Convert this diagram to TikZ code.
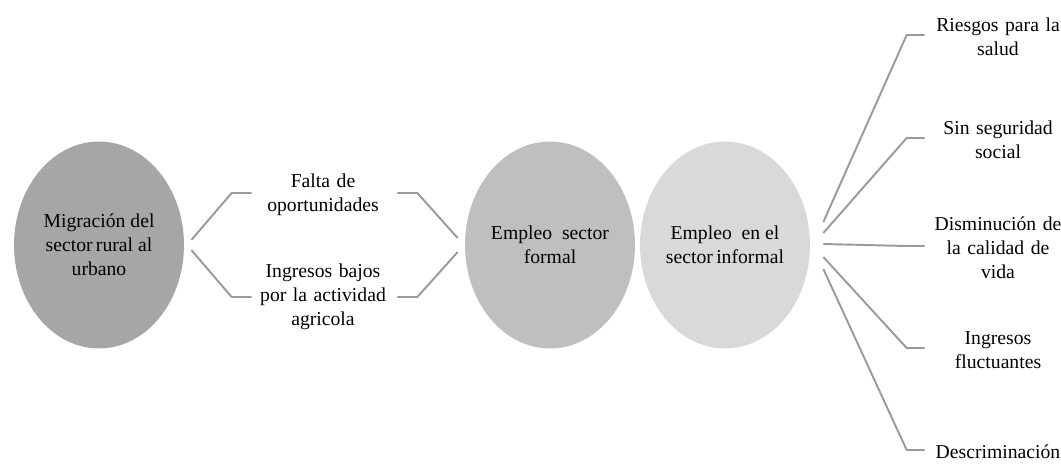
\documentclass[tikz,border=0pt]{standalone}
\usepackage{fontspec}
\setmainfont{LiberationSerif-Regular.ttf}
\usetikzlibrary{shapes.geometric, calc}

\definecolor{darkoval}{HTML}{A6A6A6}
\definecolor{midoval}{HTML}{BFBFBF}
\definecolor{lightoval}{HTML}{D9D9D9}
\definecolor{linkgray}{HTML}{9A9A9A}

\begin{document}
\begin{tikzpicture}[x=0.02cm, y=-0.02cm,
        font=\fontsize{11.2}{13.7}\selectfont,
        oval/.style={ellipse, minimum width=3.4cm, minimum height=4.14cm,
                     inner sep=0pt, align=center},
        cause/.style={inner sep=0pt, text width=2.6cm, align=center},
        link/.style={linkgray, line width=1.1pt}]
        \useasboundingbox (0,0) rectangle (1061,463);

        \node [oval, fill=darkoval] (migra) at (99,245) {Migración del\\sector\,rural al\\urbano};
        \node [oval, fill=midoval] (formal) at (550,245) {Empleo\ \ sector\\formal};
        \node [oval, fill=lightoval] (informal) at (725,245) {Empleo\ \ en el\\sector\,informal};

        \node [cause] (falta) at (323,195) {Falta de\\oportunidades};
        \node [cause] (bajos) at (323,297) {Ingresos bajos\\por la actividad\\agricola};

        \node [cause] (riesgos) at (998,37) {Riesgos para la\\salud};
        \node [cause] (seguridad) at (998,140) {Sin seguridad\\social};
        \node [cause] (calidad) at (998,248) {Disminución de\\la calidad de\\vida};
        \node [cause] (fluctuantes) at (998,350) {Ingresos\\fluctuantes};
        \node [cause] (descrim) at (998,452) {Descriminación};

        % brackets between migration and formal employment
        \draw [link] ($(migra.east)+(7,-5)$) -- ($(falta.west)+(-26,-2)$) -- ($(falta.west)+(-6,-2)$);
        \draw [link] ($(falta.east)+(9,-2)$) -- ($(falta.east)+(29,-2)$) -- ($(formal.west)+(-7,-7)$);
        \draw [link] ($(migra.east)+(7,5)$) -- ($(bajos.west)+(-26,0)$) -- ($(bajos.west)+(-6,0)$);
        \draw [link] ($(bajos.east)+(9,0)$) -- ($(bajos.east)+(29,0)$) -- ($(formal.west)+(-7,7)$);

        % fan of consequences
        \foreach \n/\dy in {riesgos/-23, seguridad/-12, calidad/-1, fluctuantes/12, descrim/24}
            \draw [link] ($(informal.east)+(13,\dy)$) -- ($(\n.west)+(-26,-2)$) -- ($(\n.west)+(-8,-2)$);
\end{tikzpicture}
\end{document}
